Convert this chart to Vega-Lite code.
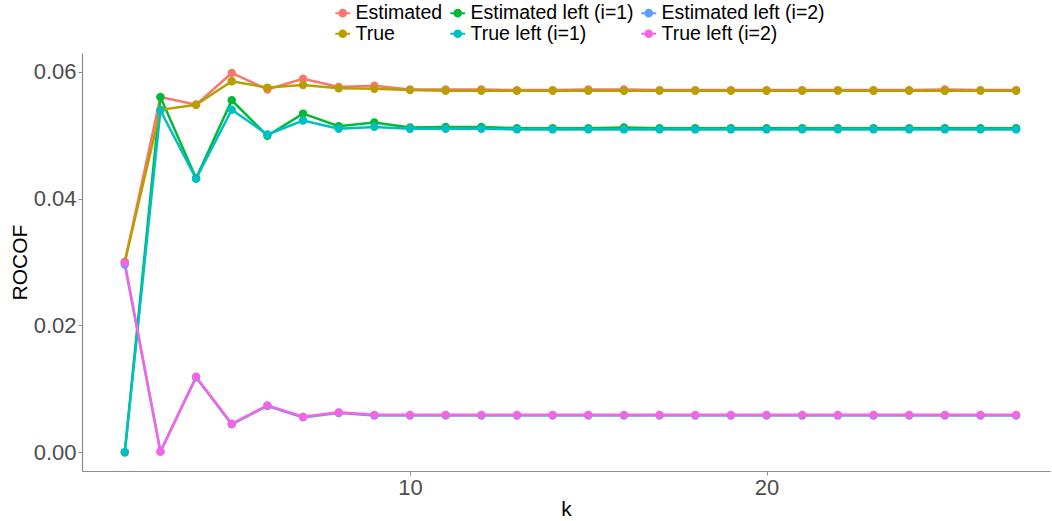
{
  "$schema": "https://vega.github.io/schema/vega-lite/v6.json",
  "width": 968,
  "height": 418,
  "autosize": {"type": "none"},
  "padding": {"left": 82, "top": 53, "right": 2, "bottom": 50},
  "background": "white",
  "config": {
    "view": {"stroke": null},
    "font": "Liberation Sans",
    "axis": {"grid": false, "domainColor": "#8c8c8c", "tickColor": "#8c8c8c", "tickSize": 4, "domainWidth": 1.2, "labelColor": "#4D4D4D", "labelFontSize": 22, "titleColor": "#000000", "titleFontSize": 21, "titleFontWeight": "normal", "labelFont": "Liberation Sans", "titleFont": "Liberation Sans"}
  },
  "data": {"values": [
    {"k":2,"s":"Estimated","v":0.0300},{"k":3,"s":"Estimated","v":0.0560},{"k":4,"s":"Estimated","v":0.0548},{"k":5,"s":"Estimated","v":0.0598},{"k":6,"s":"Estimated","v":0.0572},{"k":7,"s":"Estimated","v":0.0589},{"k":8,"s":"Estimated","v":0.0576},{"k":9,"s":"Estimated","v":0.0578},{"k":10,"s":"Estimated","v":0.0572},{"k":11,"s":"Estimated","v":0.0572},{"k":12,"s":"Estimated","v":0.0572},{"k":13,"s":"Estimated","v":0.0571},{"k":14,"s":"Estimated","v":0.0571},{"k":15,"s":"Estimated","v":0.0572},{"k":16,"s":"Estimated","v":0.0572},{"k":17,"s":"Estimated","v":0.0571},{"k":18,"s":"Estimated","v":0.0571},{"k":19,"s":"Estimated","v":0.0571},{"k":20,"s":"Estimated","v":0.0571},{"k":21,"s":"Estimated","v":0.0571},{"k":22,"s":"Estimated","v":0.0571},{"k":23,"s":"Estimated","v":0.0571},{"k":24,"s":"Estimated","v":0.0571},{"k":25,"s":"Estimated","v":0.0572},{"k":26,"s":"Estimated","v":0.0571},{"k":27,"s":"Estimated","v":0.0571},
    {"k":2,"s":"Estimated left (i=1)","v":0.0},{"k":3,"s":"Estimated left (i=1)","v":0.0560},{"k":4,"s":"Estimated left (i=1)","v":0.0432},{"k":5,"s":"Estimated left (i=1)","v":0.0555},{"k":6,"s":"Estimated left (i=1)","v":0.0499},{"k":7,"s":"Estimated left (i=1)","v":0.0534},{"k":8,"s":"Estimated left (i=1)","v":0.0514},{"k":9,"s":"Estimated left (i=1)","v":0.0520},{"k":10,"s":"Estimated left (i=1)","v":0.0512},{"k":11,"s":"Estimated left (i=1)","v":0.0513},{"k":12,"s":"Estimated left (i=1)","v":0.0513},{"k":13,"s":"Estimated left (i=1)","v":0.0511},{"k":14,"s":"Estimated left (i=1)","v":0.0511},{"k":15,"s":"Estimated left (i=1)","v":0.0511},{"k":16,"s":"Estimated left (i=1)","v":0.0512},{"k":17,"s":"Estimated left (i=1)","v":0.0511},{"k":18,"s":"Estimated left (i=1)","v":0.0511},{"k":19,"s":"Estimated left (i=1)","v":0.0511},{"k":20,"s":"Estimated left (i=1)","v":0.0511},{"k":21,"s":"Estimated left (i=1)","v":0.0511},{"k":22,"s":"Estimated left (i=1)","v":0.0511},{"k":23,"s":"Estimated left (i=1)","v":0.0511},{"k":24,"s":"Estimated left (i=1)","v":0.0511},{"k":25,"s":"Estimated left (i=1)","v":0.0511},{"k":26,"s":"Estimated left (i=1)","v":0.0511},{"k":27,"s":"Estimated left (i=1)","v":0.0511},
    {"k":2,"s":"Estimated left (i=2)","v":0.0296},{"k":3,"s":"Estimated left (i=2)","v":0.0001},{"k":4,"s":"Estimated left (i=2)","v":0.0118},{"k":5,"s":"Estimated left (i=2)","v":0.0044},{"k":6,"s":"Estimated left (i=2)","v":0.0073},{"k":7,"s":"Estimated left (i=2)","v":0.0055},{"k":8,"s":"Estimated left (i=2)","v":0.0062},{"k":9,"s":"Estimated left (i=2)","v":0.0058},{"k":10,"s":"Estimated left (i=2)","v":0.0058},{"k":11,"s":"Estimated left (i=2)","v":0.0058},{"k":12,"s":"Estimated left (i=2)","v":0.0058},{"k":13,"s":"Estimated left (i=2)","v":0.0058},{"k":14,"s":"Estimated left (i=2)","v":0.0058},{"k":15,"s":"Estimated left (i=2)","v":0.0058},{"k":16,"s":"Estimated left (i=2)","v":0.0058},{"k":17,"s":"Estimated left (i=2)","v":0.0058},{"k":18,"s":"Estimated left (i=2)","v":0.0058},{"k":19,"s":"Estimated left (i=2)","v":0.0058},{"k":20,"s":"Estimated left (i=2)","v":0.0058},{"k":21,"s":"Estimated left (i=2)","v":0.0058},{"k":22,"s":"Estimated left (i=2)","v":0.0058},{"k":23,"s":"Estimated left (i=2)","v":0.0058},{"k":24,"s":"Estimated left (i=2)","v":0.0058},{"k":25,"s":"Estimated left (i=2)","v":0.0058},{"k":26,"s":"Estimated left (i=2)","v":0.0058},{"k":27,"s":"Estimated left (i=2)","v":0.0058},
    {"k":2,"s":"True","v":0.0300},{"k":3,"s":"True","v":0.0540},{"k":4,"s":"True","v":0.0548},{"k":5,"s":"True","v":0.0585},{"k":6,"s":"True","v":0.0575},{"k":7,"s":"True","v":0.0579},{"k":8,"s":"True","v":0.0574},{"k":9,"s":"True","v":0.0573},{"k":10,"s":"True","v":0.0571},{"k":11,"s":"True","v":0.0570},{"k":12,"s":"True","v":0.0570},{"k":13,"s":"True","v":0.0570},{"k":14,"s":"True","v":0.0570},{"k":15,"s":"True","v":0.0570},{"k":16,"s":"True","v":0.0570},{"k":17,"s":"True","v":0.0570},{"k":18,"s":"True","v":0.0570},{"k":19,"s":"True","v":0.0570},{"k":20,"s":"True","v":0.0570},{"k":21,"s":"True","v":0.0570},{"k":22,"s":"True","v":0.0570},{"k":23,"s":"True","v":0.0570},{"k":24,"s":"True","v":0.0570},{"k":25,"s":"True","v":0.0570},{"k":26,"s":"True","v":0.0570},{"k":27,"s":"True","v":0.0570},
    {"k":2,"s":"True left (i=1)","v":0.0},{"k":3,"s":"True left (i=1)","v":0.0539},{"k":4,"s":"True left (i=1)","v":0.0431},{"k":5,"s":"True left (i=1)","v":0.0540},{"k":6,"s":"True left (i=1)","v":0.0501},{"k":7,"s":"True left (i=1)","v":0.0523},{"k":8,"s":"True left (i=1)","v":0.0510},{"k":9,"s":"True left (i=1)","v":0.0513},{"k":10,"s":"True left (i=1)","v":0.0510},{"k":11,"s":"True left (i=1)","v":0.0510},{"k":12,"s":"True left (i=1)","v":0.0510},{"k":13,"s":"True left (i=1)","v":0.0509},{"k":14,"s":"True left (i=1)","v":0.0509},{"k":15,"s":"True left (i=1)","v":0.0509},{"k":16,"s":"True left (i=1)","v":0.0509},{"k":17,"s":"True left (i=1)","v":0.0509},{"k":18,"s":"True left (i=1)","v":0.0509},{"k":19,"s":"True left (i=1)","v":0.0509},{"k":20,"s":"True left (i=1)","v":0.0509},{"k":21,"s":"True left (i=1)","v":0.0509},{"k":22,"s":"True left (i=1)","v":0.0509},{"k":23,"s":"True left (i=1)","v":0.0509},{"k":24,"s":"True left (i=1)","v":0.0509},{"k":25,"s":"True left (i=1)","v":0.0509},{"k":26,"s":"True left (i=1)","v":0.0509},{"k":27,"s":"True left (i=1)","v":0.0509},
    {"k":2,"s":"True left (i=2)","v":0.0299},{"k":3,"s":"True left (i=2)","v":0.0001},{"k":4,"s":"True left (i=2)","v":0.0119},{"k":5,"s":"True left (i=2)","v":0.0045},{"k":6,"s":"True left (i=2)","v":0.0074},{"k":7,"s":"True left (i=2)","v":0.0056},{"k":8,"s":"True left (i=2)","v":0.0063},{"k":9,"s":"True left (i=2)","v":0.0059},{"k":10,"s":"True left (i=2)","v":0.0059},{"k":11,"s":"True left (i=2)","v":0.0059},{"k":12,"s":"True left (i=2)","v":0.0059},{"k":13,"s":"True left (i=2)","v":0.0059},{"k":14,"s":"True left (i=2)","v":0.0059},{"k":15,"s":"True left (i=2)","v":0.0059},{"k":16,"s":"True left (i=2)","v":0.0059},{"k":17,"s":"True left (i=2)","v":0.0059},{"k":18,"s":"True left (i=2)","v":0.0059},{"k":19,"s":"True left (i=2)","v":0.0059},{"k":20,"s":"True left (i=2)","v":0.0059},{"k":21,"s":"True left (i=2)","v":0.0059},{"k":22,"s":"True left (i=2)","v":0.0059},{"k":23,"s":"True left (i=2)","v":0.0059},{"k":24,"s":"True left (i=2)","v":0.0059},{"k":25,"s":"True left (i=2)","v":0.0059},{"k":26,"s":"True left (i=2)","v":0.0059},{"k":27,"s":"True left (i=2)","v":0.0059}
  ]},
  "encoding": {
    "x": {"field": "k", "type": "quantitative", "title": "k",
      "scale": {"domain": [0.8, 27.95], "nice": false, "zero": false},
      "axis": {"values": [10, 20], "labelPadding": 2, "titlePadding": 0}},
    "y": {"field": "v", "type": "quantitative", "title": "ROCOF",
      "scale": {"domain": [-0.00295, 0.06295], "nice": false, "zero": false},
      "axis": {"values": [0, 0.02, 0.04, 0.06], "format": ".2f", "labelPadding": 2, "titlePadding": 3}},
    "color": {"field": "s", "type": "nominal",
      "scale": {"domain": ["Estimated", "Estimated left (i=1)", "Estimated left (i=2)", "True", "True left (i=1)", "True left (i=2)"],
                "range": ["#F8766D", "#00BA38", "#619CFF", "#B79F00", "#00BFC4", "#F564E3"]},
      "legend": {"title": null, "orient": "none", "legendX": 251, "legendY": -50, "columns": 3, "direction": "horizontal",
        "labelFontSize": 19.5, "labelLimit": 400, "labelColor": "#000000", "labelFont": "Liberation Sans", "labelOffset": 3, "columnPadding": 3, "rowPadding": 0,
        "symbolType": "M-1,0L1,0M-0.45,0A0.45,0.45,0,1,1,0.45,0A0.45,0.45,0,1,1,-0.45,0Z", "symbolSize": 220, "symbolStrokeWidth": 2, "symbolOpacity": 1}}
  },
  "layer": [
    {"mark": {"type": "line", "strokeWidth": 2.5}},
    {"mark": {"type": "point", "filled": true, "size": 70, "opacity": 1}}
  ]
}
